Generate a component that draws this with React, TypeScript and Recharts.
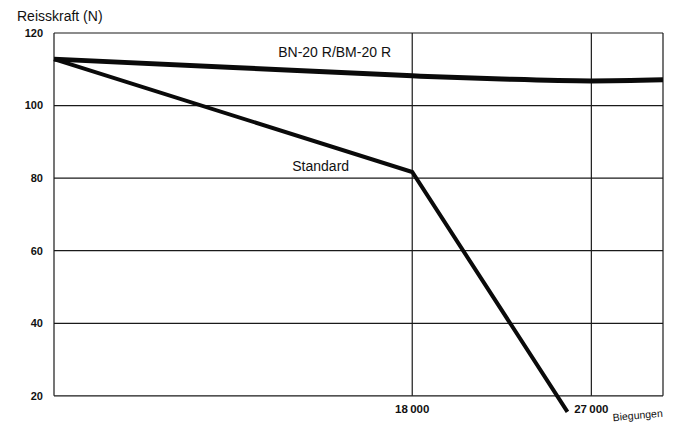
import React from 'react';
import { LineChart, Line, XAxis, YAxis, CartesianGrid, ReferenceLine, ReferenceDot } from 'recharts';

// Biegungen (x) und Reisskraft in N (y)
const bnCycles = [0, 9000, 18000, 22500, 27000, 30600];
const bnForce = [112.8, 110.5, 108.2, 107.3, 106.8, 107.1];
const stdCycles = [0, 18000, 25800];
const stdForce = [112.8, 81.7, 15.6];

const yTicks = [20, 40, 60, 80, 100, 120];
const xTicks = [18000, 27000];
const xBorders = [0, 18000, 27000, 30600];

const bnData = bnCycles.map((x, i) => ({ x, force: bnForce[i] }));
const stdData = stdCycles.map((x, i) => ({ x, force: stdForce[i] }));

const FONT = '"Liberation Sans", Arial, Helvetica, sans-serif';
const INK = '#111';

const fmt = (v: number) => String(v).replace(/(\d+)(\d{3})$/, '$1\u2009$2');

const XTick = (props: any) => (
  <text x={props.x} y={props.y - 5} dy="0.35em" textAnchor="middle" fontSize={11.5} fontWeight={700} fill={INK} fontFamily={FONT}>
    {fmt(props.payload.value)}
  </text>
);

export default function App() {
  return (
    <div style={{ position: 'absolute', left: 0, top: 0, background: '#fff' }}>
      <LineChart width={680} height={423} margin={{ top: 33, right: 17, bottom: 0, left: 0 }}>
        <CartesianGrid
          vertical={false}
          stroke="#1a1a1a"
          strokeWidth={1.2}
          horizontalValues={yTicks}
          syncWithTicks
        />
        <XAxis
          type="number"
          dataKey="x"
          domain={[0, 30600]}
          ticks={xTicks}
          interval={0}
          height={9}
          axisLine={false}
          tickLine={false}
          tickSize={0}
          tickMargin={0}
          tick={<XTick />}
          label={{
            content: ({ viewBox }: any) => {
              const tx = viewBox.x + viewBox.width - 25;
              const ty = viewBox.y + 5;
              return (
                <text x={tx} y={ty} textAnchor="middle" fontSize={10.5} fill={INK} fontFamily={FONT} transform={`rotate(-5 ${tx} ${ty})`}>
                  Biegungen
                </text>
              );
            },
          }}
        />
        <YAxis
          type="number"
          domain={[15, 120]}
          ticks={yTicks}
          interval={0}
          width={54}
          axisLine={false}
          tickLine={false}
          tickSize={0}
          tickMargin={11}
          tick={{ fontSize: 11, fontWeight: 700, fill: INK, fontFamily: FONT }}
          label={{
            content: ({ viewBox }: any) => (
              <text x={viewBox.x + 17} y={viewBox.y - 12} fontSize={14} fill={INK} fontFamily={FONT}>
                Reisskraft (N)
              </text>
            ),
          }}
        />
        {xBorders.map((x) => (
          <ReferenceLine key={x} segment={[{ x, y: 20 }, { x, y: 120 }]} stroke="#1a1a1a" strokeWidth={1.2} />
        ))}
        <Line data={bnData} dataKey="force" type="monotone" stroke="#0a0a0a" strokeWidth={5} dot={false} isAnimationActive={false} />
        <Line data={stdData} dataKey="force" type="linear" stroke="#0a0a0a" strokeWidth={4} dot={false} isAnimationActive={false} />
        <ReferenceDot x={14100} y={114.8} r={0} fill="none" stroke="none"
          label={{ value: 'BN-20 R/BM-20 R', position: 'center', fontSize: 14, fill: INK, fontFamily: FONT }} />
        <ReferenceDot x={13400} y={83.4} r={0} fill="none" stroke="none"
          label={{ value: 'Standard', position: 'center', fontSize: 14, fill: INK, fontFamily: FONT }} />
      </LineChart>
    </div>
  );
}
